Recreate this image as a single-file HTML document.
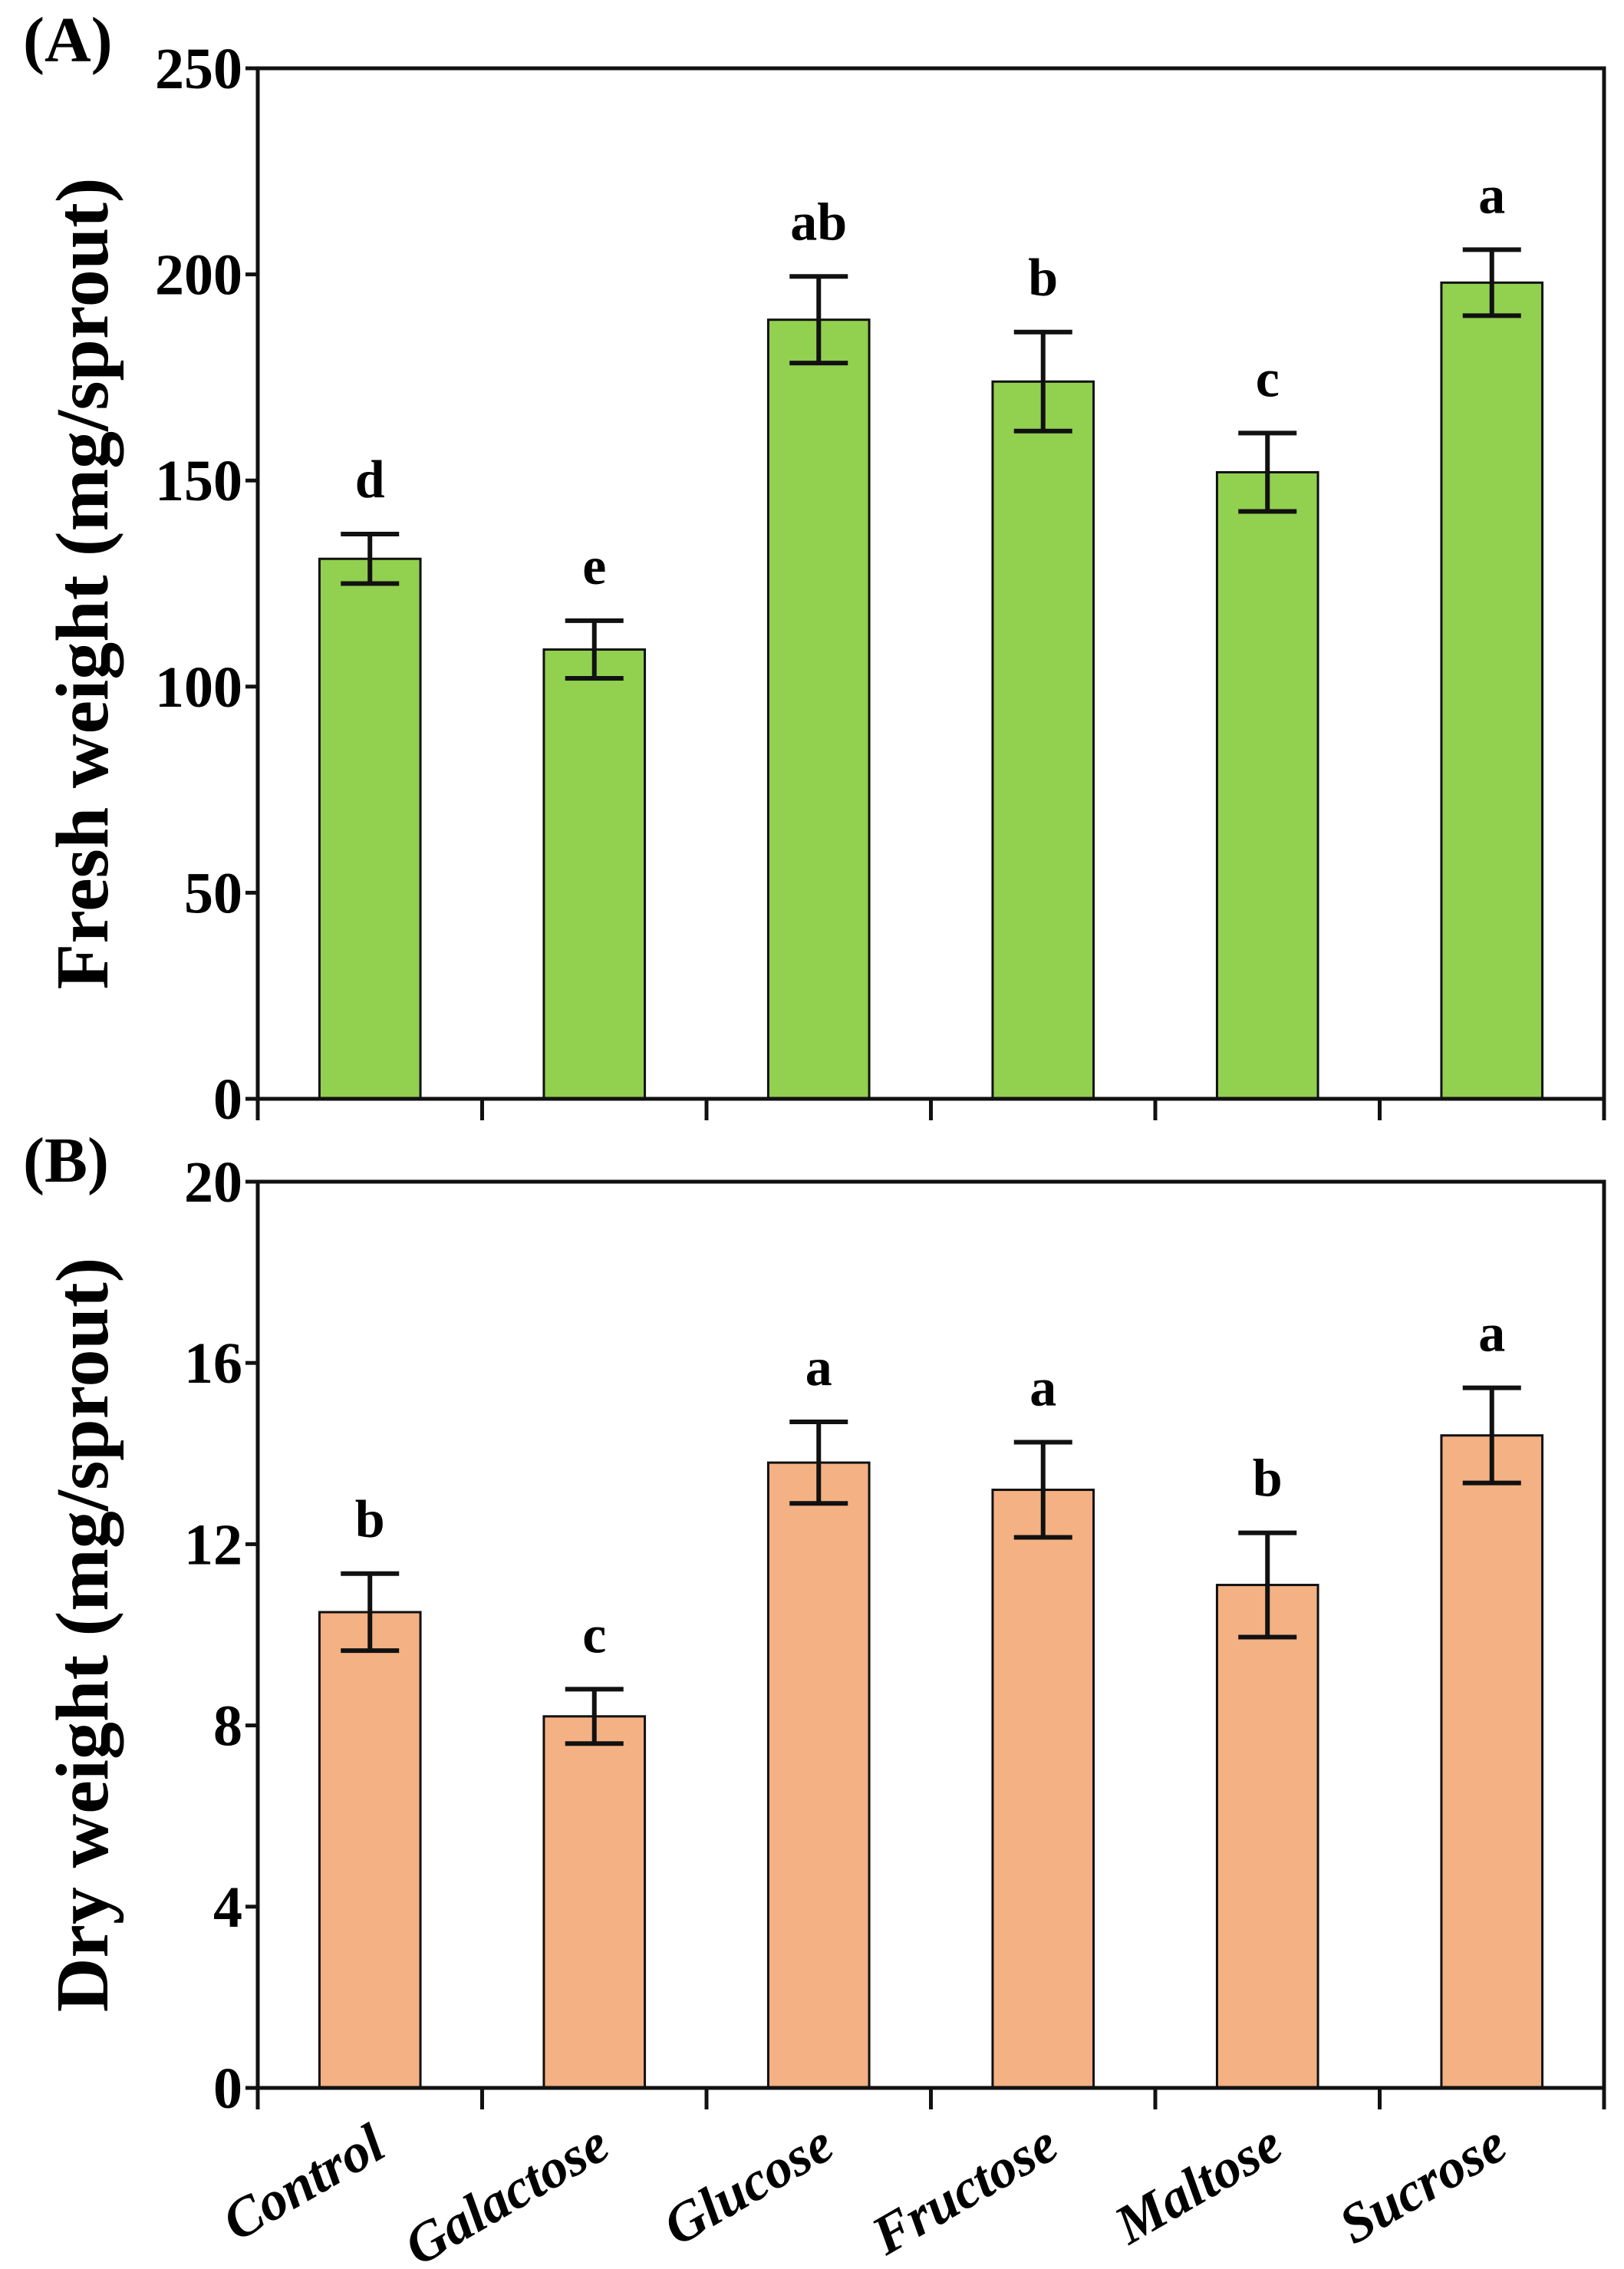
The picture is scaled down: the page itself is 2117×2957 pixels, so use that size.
<!DOCTYPE html>
<html><head><meta charset="utf-8"><style>
body{margin:0;background:#fff;}
svg{display:block;font-family:"Liberation Serif",serif;font-weight:bold;}
</style></head><body>
<svg id="chart" width="2117" height="2957" xmlns="http://www.w3.org/2000/svg"></svg>
<script>
const categories=["Control","Galactose","Glucose","Fructose","Maltose","Sucrose"];
const freshValues=[131,109,189,174,152,198];
const freshErrors=[6,7,10.5,12,9.5,8];
const freshLetters=["d","e","ab","b","c","a"];
const freshTicks=[0,50,100,150,200,250];
const dryValues=[10.5,8.2,13.8,13.2,11.1,14.4];
const dryErrors=[0.85,0.6,0.9,1.05,1.15,1.05];
const dryLetters=["b","c","a","a","b","a"];
const dryTicks=[0,4,8,12,16,20];

const NS="http://www.w3.org/2000/svg";
const svg=document.getElementById('chart');
function mk(tag,attrs,parent){const e=document.createElementNS(NS,tag);for(const k in attrs)e.setAttribute(k,attrs[k]);(parent||svg).appendChild(e);return e;}
const L=336,R=2091;
const band=(R-L)/categories.length;
function xc(i){return L+band*(i+0.5);}

function panel(opts){
  const {top,bottom,max,values,errors,letters,ticks,color,title,label,name,labelY}=opts;
  const g=mk('g',{});
  
  
  const y=v=>bottom-(v/max)*(bottom-top);
  values.forEach((v,i)=>{
    const bw=band*0.45;
    const b=mk('rect',{x:xc(i)-bw/2,y:y(v),width:bw,height:bottom-y(v),fill:color,stroke:'#111','stroke-width':3},g);
    
    
    const hi=y(v+errors[i]),lo=y(v-errors[i]);
    const eg=mk('g',{stroke:'#111','stroke-width':6},g);
    
    
    mk('line',{x1:xc(i),x2:xc(i),y1:hi,y2:lo},eg);
    mk('line',{x1:xc(i)-38,x2:xc(i)+38,y1:hi,y2:hi},eg);
    mk('line',{x1:xc(i)-38,x2:xc(i)+38,y1:lo,y2:lo},eg);
    const t=mk('text',{x:xc(i),y:hi-48,'text-anchor':'middle','font-size':70},g);
    t.textContent=letters[i];
    
    
  });
  const fr=mk('rect',{x:L,y:top,width:R-L,height:bottom-top,fill:'none',stroke:'#111','stroke-width':5},g);
  
  
  ticks.forEach(tv=>{
    mk('line',{x1:L-16,x2:L,y1:y(tv),y2:y(tv),stroke:'#111','stroke-width':5},g);
    const t=mk('text',{x:L-20,y:y(tv)+26,'text-anchor':'end','font-size':76},g);
    t.textContent=tv;
    
    
  });
  for(let i=0;i<=categories.length;i++){
    mk('line',{x1:L+band*i,x2:L+band*i,y1:bottom,y2:bottom+28,stroke:'#111','stroke-width':5},g);
  }
  const cy=(top+bottom)/2;
  const yt=mk('text',{x:0,y:0,'text-anchor':'middle','font-size':98,transform:`translate(140,${cy}) rotate(-90)`},g);
  yt.textContent=title;
  
  
  const pl=mk('text',{x:30,y:labelY,'font-size':84},g);
  pl.textContent=label;
  
  
  return y;
}
panel({top:89,bottom:1432,max:250,values:freshValues,errors:freshErrors,letters:freshLetters,ticks:freshTicks,color:'#92d050',title:'Fresh weight (mg/sprout)',label:'(A)',name:'panel-a-fresh-weight',labelY:80});
panel({top:1540,bottom:2721,max:20,values:dryValues,errors:dryErrors,letters:dryLetters,ticks:dryTicks,color:'#f4b183',title:'Dry weight (mg/sprout)',label:'(B)',name:'panel-b-dry-weight',labelY:1540});
categories.forEach((c,i)=>{
  const x=xc(i)+24,y=2808;
  const t=mk('text',{x:x,y:y,'text-anchor':'end','font-size':72,'font-style':'italic',transform:`rotate(-30 ${x} ${y})`});
  t.textContent=c;
  
  
});
</script>
</body></html>
